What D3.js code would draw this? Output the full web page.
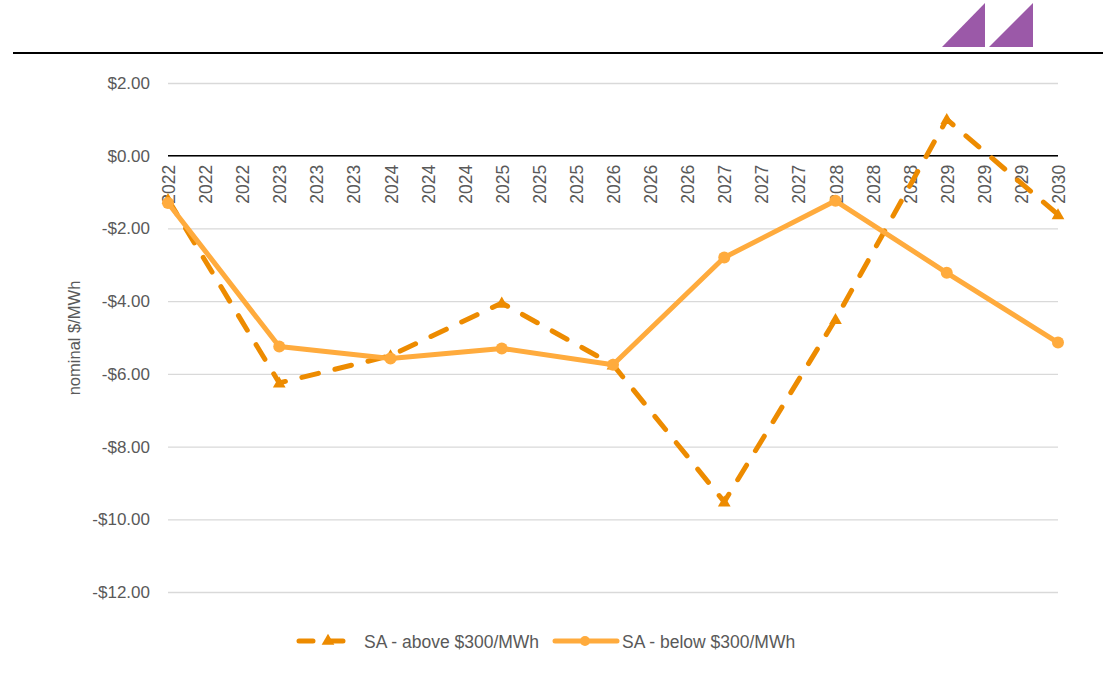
<!DOCTYPE html>
<html>
<head>
<meta charset="utf-8">
<script src="https://cdn.jsdelivr.net/npm/d3@7"></script>
<style>
  body { margin: 0; background: #fff; }
  text { font-family: "Liberation Sans", Arial, sans-serif; }
</style>
</head>
<body>
<div id="chart"></div>
<script>
// x-axis category labels (three per year, last one 2030)
var tickLabels = ["2022","2022","2022","2023","2023","2023","2024","2024","2024",
  "2025","2025","2025","2026","2026","2026","2027","2027","2027",
  "2028","2028","2028","2029","2029","2029","2030"];

// data points sit on the first label of each year
var years = ["2022","2023","2024","2025","2026","2027","2028","2029","2030"];
var yearIndex = [0, 3, 6, 9, 12, 15, 18, 21, 24];

var aboveValues = [-1.2, -6.25, -5.5, -4.05, -5.75, -9.52, -4.5, 1.0, -1.62];
var belowValues = [-1.3, -5.25, -5.58, -5.3, -5.75, -2.8, -1.24, -3.22, -5.14];

var yTicks = [2, 0, -2, -4, -6, -8, -10, -12];

// set the dimensions and margins of the graph
var totalW = 1109, totalH = 675;
var margin = {top: 83, right: 51, bottom: 83, left: 168},
    width = totalW - margin.left - margin.right,
    height = totalH - margin.top - margin.bottom;

var darkOrange = "#ED8B00",
    lightOrange = "#FFAB3D",
    grey = "#595959";

var svg0 = d3.select("#chart").append("svg")
    .attr("width", totalW)
    .attr("height", totalH);

// header rule and logo
svg0.append("line")
    .attr("x1", 13).attr("x2", 1103)
    .attr("y1", 53).attr("y2", 53)
    .attr("stroke", "#000").attr("stroke-width", 2);

[[942, 985], [989, 1033]].forEach(function(p) {
  svg0.append("path")
      .attr("d", "M" + p[0] + ",47 L" + p[1] + ",3 L" + p[1] + ",47 Z")
      .attr("fill", "#9B59A8");
});

var svg = svg0.append("g")
    .attr("transform", "translate(" + margin.left + "," + margin.top + ")");

// set the ranges
var x = d3.scalePoint().domain(d3.range(tickLabels.length)).range([0, width]);
var y = d3.scaleLinear().domain([-12, 2]).range([height, 0]);

// gridlines
svg.append("g")
    .attr("class", "grid")
    .call(d3.axisLeft(y).tickValues(yTicks).tickSize(-width).tickFormat(""))
    .call(function(g) {
      g.select(".domain").remove();
      g.selectAll("line").attr("stroke", "#d9d9d9").attr("stroke-width", 1.3);
    });

// y tick labels
svg.append("g")
    .call(d3.axisLeft(y).tickValues(yTicks).tickSize(0).tickPadding(18)
      .tickFormat(function(d) { return (d < 0 ? "-$" : "$") + Math.abs(d).toFixed(2); }))
    .call(function(g) {
      g.select(".domain").remove();
      g.selectAll("text")
        .style("font-family", "'Liberation Sans', Arial, sans-serif")
        .style("font-size", "17px")
        .attr("fill", grey);
    });

// zero axis
svg.append("line")
    .attr("x1", 0).attr("x2", width)
    .attr("y1", y(0)).attr("y2", y(0))
    .attr("stroke", "#000").attr("stroke-width", 1.5);

// x labels, rotated
svg.append("g")
    .selectAll("text")
    .data(tickLabels)
    .enter()
    .append("text")
    .attr("transform", function(d, i) {
      return "translate(" + (x(i) + 7) + "," + (y(0) + 9) + ") rotate(-90)";
    })
    .attr("text-anchor", "end")
    .style("font-size", "17.5px")
    .attr("fill", grey)
    .text(function(d) { return d; });

// y axis title
svg0.append("text")
    .attr("transform", "translate(80,338) rotate(-90)")
    .attr("text-anchor", "middle")
    .style("font-size", "16.5px")
    .attr("fill", grey)
    .text("nominal $/MWh");

var line = d3.line()
    .x(function(d) { return x(d.i); })
    .y(function(d) { return y(d.v); });

var aboveData = yearIndex.map(function(idx, k) { return {i: idx, v: aboveValues[k]}; });
var belowData = yearIndex.map(function(idx, k) { return {i: idx, v: belowValues[k]}; });

var tri = d3.symbol().type(d3.symbolTriangle).size(70);

// above series (dashed, triangles)
svg.append("path")
    .datum(aboveData)
    .attr("fill", "none")
    .attr("stroke", darkOrange)
    .attr("stroke-width", 5)
    .attr("stroke-linecap", "round")
    .attr("stroke-dasharray", "17,17")
    .attr("d", line);

svg.append("g")
    .selectAll("path")
    .data(aboveData)
    .enter()
    .append("path")
    .attr("transform", function(d) { return "translate(" + x(d.i) + "," + (y(d.v) + 1) + ")"; })
    .attr("d", tri)
    .attr("fill", darkOrange);

// below series (solid, circles)
svg.append("path")
    .datum(belowData)
    .attr("fill", "none")
    .attr("stroke", lightOrange)
    .attr("stroke-width", 5)
    .attr("stroke-linejoin", "round")
    .attr("d", line);

svg.append("g")
    .selectAll("circle")
    .data(belowData)
    .enter()
    .append("circle")
    .attr("cx", function(d) { return x(d.i); })
    .attr("cy", function(d) { return y(d.v); })
    .attr("r", 6)
    .attr("fill", lightOrange);

// legend
var legend = svg0.append("g");

var lg1 = legend.append("g");
lg1.append("line")
    .attr("x1", 299).attr("x2", 351).attr("y1", 641).attr("y2", 641)
    .attr("stroke", darkOrange).attr("stroke-width", 5)
    .attr("stroke-linecap", "round")
    .attr("stroke-dasharray", "14,16");
lg1.append("path")
    .attr("transform", "translate(328,641)")
    .attr("d", tri)
    .attr("fill", darkOrange);
lg1.append("text")
    .attr("x", 364).attr("y", 648)
    .style("font-size", "17.5px")
    .attr("fill", grey)
    .text("SA - above $300/MWh");

var lg2 = legend.append("g");
lg2.append("line")
    .attr("x1", 555).attr("x2", 617).attr("y1", 641).attr("y2", 641)
    .attr("stroke", lightOrange).attr("stroke-width", 5)
    .attr("stroke-linecap", "round");
lg2.append("circle")
    .attr("cx", 585).attr("cy", 641).attr("r", 5)
    .attr("fill", lightOrange);
lg2.append("text")
    .attr("x", 622).attr("y", 648)
    .style("font-size", "17.5px")
    .attr("fill", grey)
    .text("SA - below $300/MWh");
</script>
</body>
</html>
